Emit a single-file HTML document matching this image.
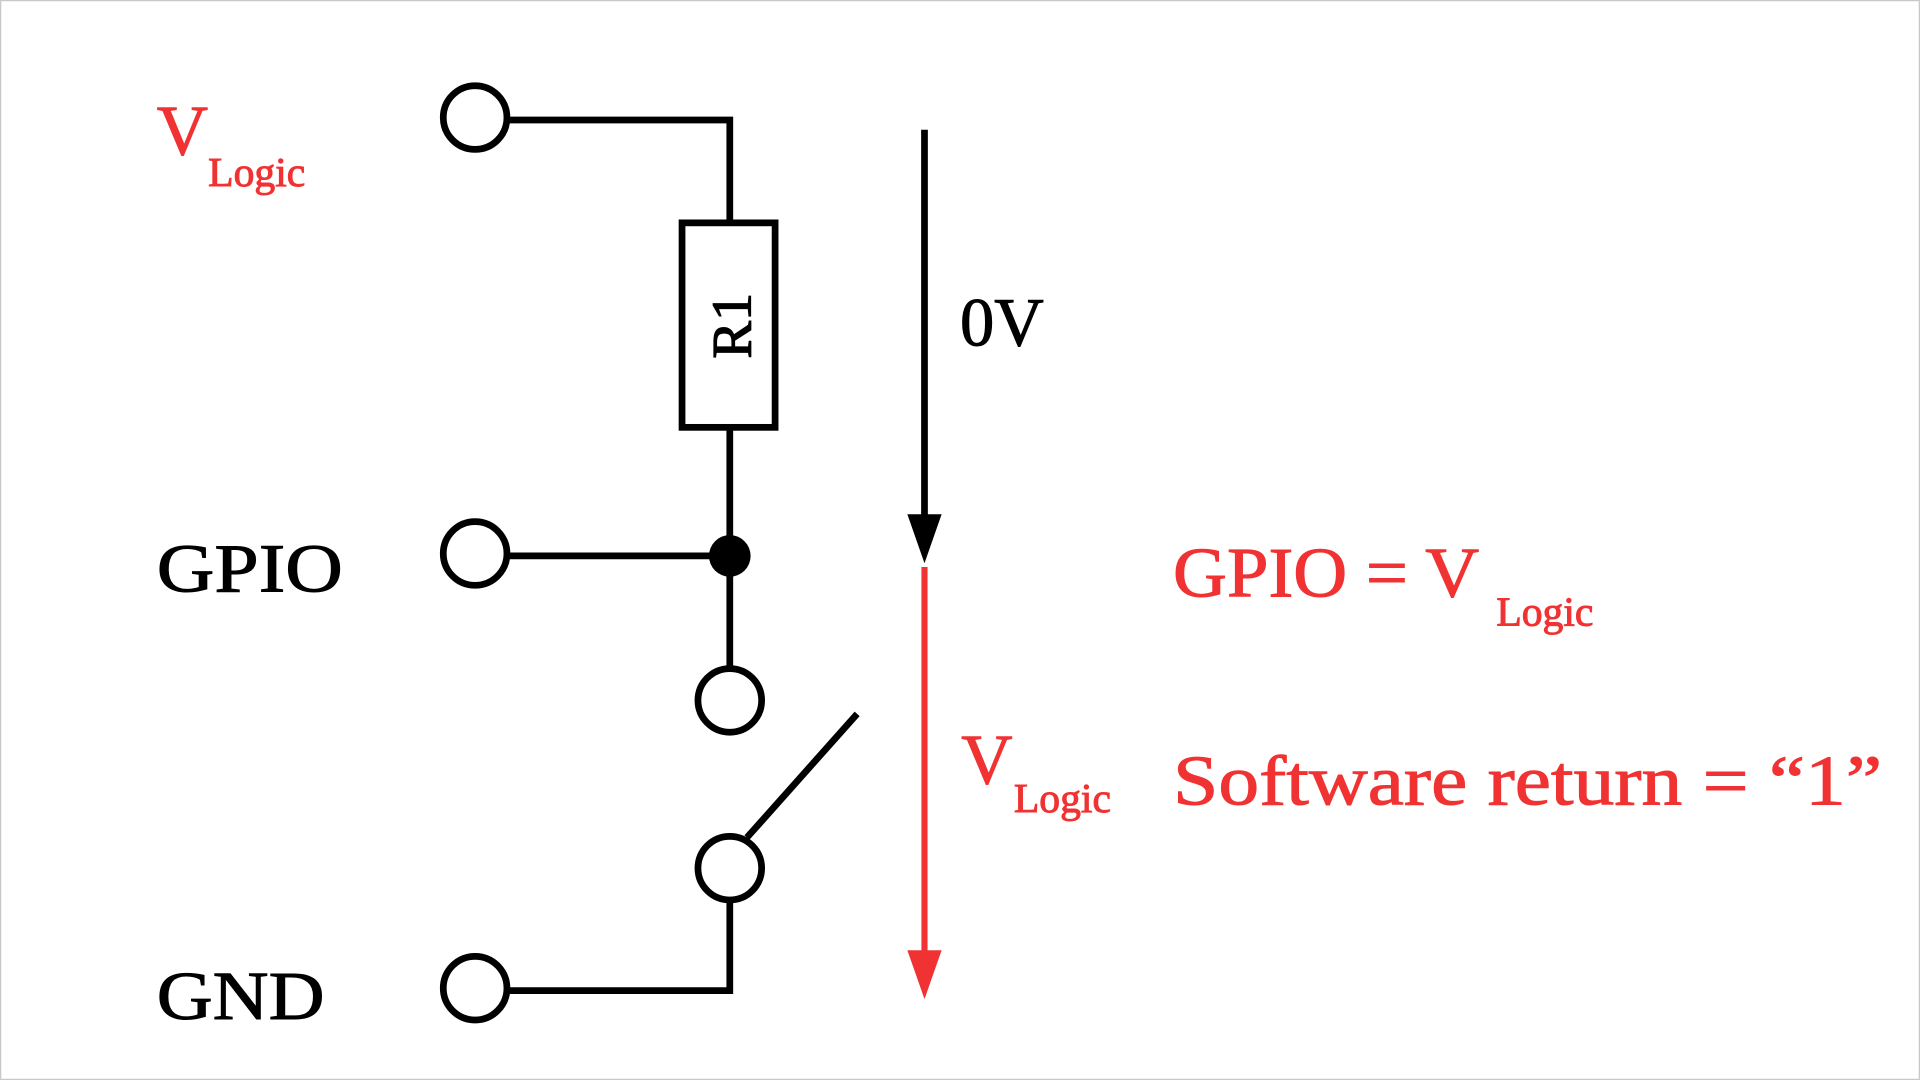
<!DOCTYPE html>
<html><head><meta charset="utf-8"><style>
html,body{margin:0;padding:0;background:#fff;}
svg{display:block;}
text{font-family:"Liberation Serif",serif;}
</style></head><body>
<svg width="1920" height="1080" viewBox="0 0 1568 882" xmlns="http://www.w3.org/2000/svg">
<rect x="0.5" y="0.5" width="1567" height="881" fill="#fff" stroke="#c8c8c8" stroke-width="1"/>
<g stroke="#000" stroke-width="5.5" fill="none">
<circle cx="388" cy="96" r="26"/>
<circle cx="388" cy="452" r="26"/>
<circle cx="388" cy="807" r="26"/>
<circle cx="596" cy="572" r="26"/>
<circle cx="596" cy="709" r="26"/>
<polyline points="414,98 596,98 596,182"/>
<rect x="557" y="182" width="76" height="167"/>
<line x1="596" y1="349" x2="596" y2="546"/>
<line x1="414" y1="454" x2="596" y2="454"/>
<line x1="610" y1="684" x2="700" y2="583"/>
<polyline points="596,735 596,809 414,809"/>
<line x1="755" y1="106" x2="755" y2="428"/>
</g>
<circle cx="596" cy="454" r="17" fill="#000"/>
<polygon points="741,420 769,420 755,460" fill="#000"/>
<line x1="755" y1="463" x2="755" y2="780" stroke="#f03232" stroke-width="5"/>
<polygon points="741,776 769,776 755,816" fill="#f03232"/>
<text x="0" y="0" font-size="46" transform="translate(613,266) rotate(-90)" text-anchor="middle" fill="#000" stroke="#000" stroke-width="1">R1</text>
<g fill="#f03232" stroke="#f03232" stroke-width="0.8">
<text x="128" y="126" font-size="58">V</text>
<text x="170" y="152" font-size="34">Logic</text>
<text x="785" y="640" font-size="58">V</text>
<text x="828" y="663" font-size="34">Logic</text>
<text x="958" y="487" font-size="58" textLength="250" lengthAdjust="spacingAndGlyphs">GPIO = V</text>
<text x="1222" y="511" font-size="34">Logic</text>
<text x="958" y="657" font-size="58" textLength="579" lengthAdjust="spacingAndGlyphs">Software return = “1”</text>
</g>
<g fill="#000" stroke="#000" stroke-width="0.8">
<text x="128" y="483" font-size="56" textLength="152" lengthAdjust="spacingAndGlyphs">GPIO</text>
<text x="128" y="832" font-size="56" textLength="137" lengthAdjust="spacingAndGlyphs">GND</text>
<text x="784" y="282" font-size="56">0V</text>
</g>
</svg>
</body></html>
